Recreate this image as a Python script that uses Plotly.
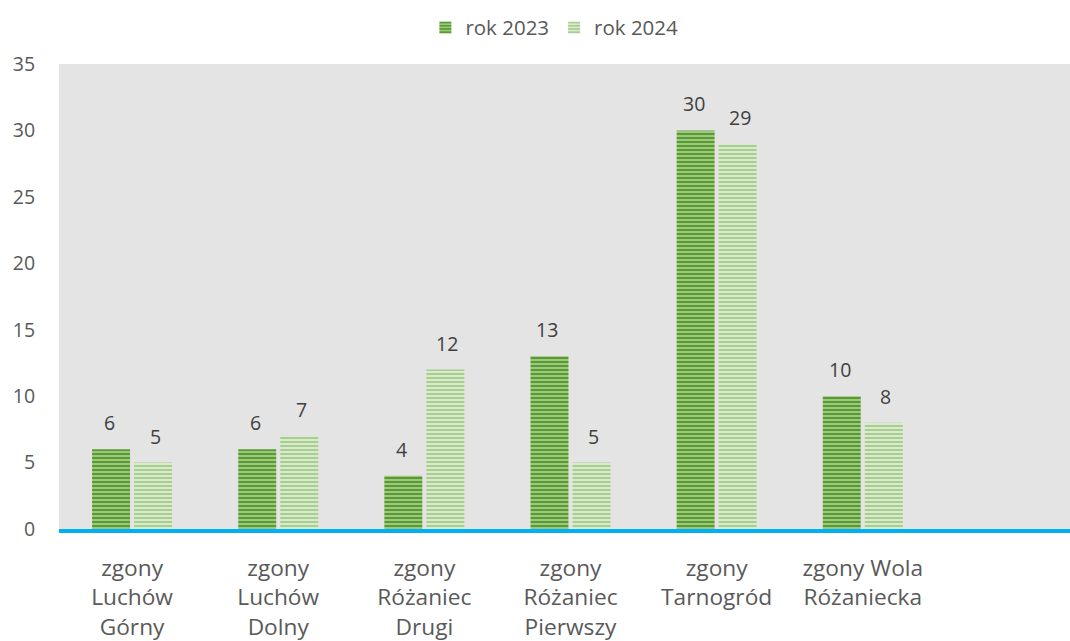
import plotly.graph_objects as go

categories = ["zgony<br>Luchów<br>Górny", "zgony<br>Luchów<br>Dolny", "zgony<br>Różaniec<br>Drugi",
              "zgony<br>Różaniec<br>Pierwszy", "zgony<br>Tarnogród", "zgony Wola<br>Różaniecka"]
series_names = ["rok 2023", "rok 2024"]
values_2023 = [6, 6, 4, 13, 30, 10]
values_2024 = [5, 7, 12, 5, 29, 8]
y_ticks = [0, 5, 10, 15, 20, 25, 30, 35]

FONT = "Open Sans"
fig = go.Figure()
styles = [
    dict(fg="#5A9A33", bg="#9CC97E"),
    dict(fg="#A7CE8F", bg="#DAEACF"),
]
for name, vals, st in zip(series_names, [values_2023, values_2024], styles):
    fig.add_trace(go.Bar(
        name=name, x=categories, y=vals,
        marker=dict(color=st["bg"], line=dict(width=0),
                    pattern=dict(shape="-", fgcolor=st["fg"], bgcolor=st["bg"],
                                 size=4, solidity=0.5, fillmode="replace")),
        hoverinfo="skip",
    ))

# data labels
offset_px = 23
for vals, sign in [(values_2023, -1), (values_2024, 1)]:
    for c, v in zip(categories, vals):
        fig.add_annotation(x=c, y=v, text=str(v), showarrow=False, xref="x", yref="y",
                           yanchor="bottom", yshift=11, xshift=sign * offset_px,
                           font=dict(family=FONT, size=19.5, color="#404040"))

fig.update_layout(
    width=1070, height=641,
    margin=dict(l=59, r=0, t=64, b=112, pad=0, autoexpand=False),
    paper_bgcolor="white", plot_bgcolor="#E4E4E4",
    barmode="group", bargap=0.425, bargroupgap=0.096,
    font=dict(family=FONT, size=20, color="#595959"),
    legend=dict(orientation="h", x=0.49, xanchor="center", yref="container", y=0.957, yanchor="middle",
                font=dict(family=FONT, size=20.5, color="#595959"),
                itemwidth=30, traceorder="normal"),
    showlegend=True,
)
fig.update_xaxes(range=[-0.5, 6.418], showgrid=False, showline=True, linecolor="#00B0F0", linewidth=3.5,
                 ticks="outside", ticklen=16, tickcolor="rgba(0,0,0,0)", automargin=False,
                 tickfont=dict(family=FONT, size=22.7, color="#595959"), fixedrange=True)
fig.update_yaxes(range=[0, 35], tickvals=y_ticks, showgrid=False, zeroline=False, showline=False,
                 ticks="outside", ticklen=19, tickcolor="rgba(0,0,0,0)", automargin=False,
                 tickfont=dict(family=FONT, size=19.5, color="#595959"), fixedrange=True)

fig.write_html("out.html", config={"displayModeBar": False, "staticPlot": True},
               post_script="document.body.style.margin='0';")
